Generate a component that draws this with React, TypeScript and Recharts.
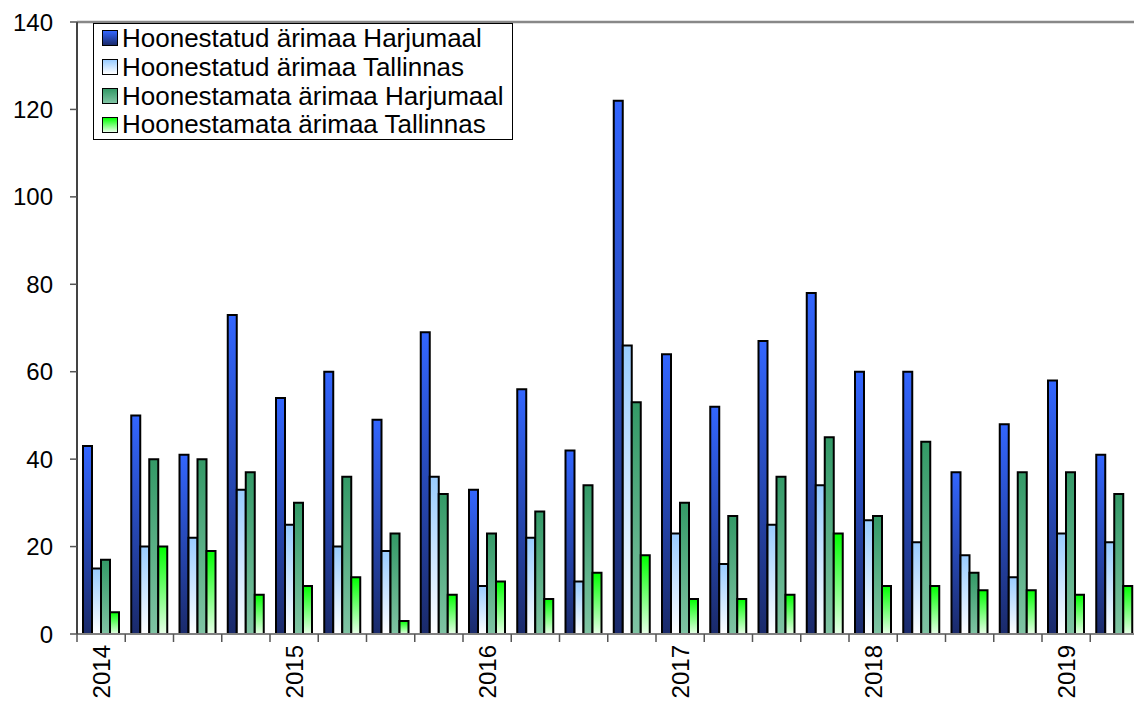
import React from "react";
import {
  BarChart,
  Bar,
  XAxis,
  YAxis,
  Legend,
  ReferenceLine,
} from "recharts";

// quarters 2014 I ... 2019 II
const quarters = [
  "2014-1", "2014-2", "2014-3", "2014-4",
  "2015-1", "2015-2", "2015-3", "2015-4",
  "2016-1", "2016-2", "2016-3", "2016-4",
  "2017-1", "2017-2", "2017-3", "2017-4",
  "2018-1", "2018-2", "2018-3", "2018-4",
  "2019-1", "2019-2",
];

const builtHarju = [43, 50, 41, 73, 54, 60, 49, 69, 33, 56, 42, 122, 64, 52, 67, 78, 60, 60, 37, 48, 58, 41];
const builtTallinn = [15, 20, 22, 33, 25, 20, 19, 36, 11, 22, 12, 66, 23, 16, 25, 34, 26, 21, 18, 13, 23, 21];
const landHarju = [17, 40, 40, 37, 30, 36, 23, 32, 23, 28, 34, 53, 30, 27, 36, 45, 27, 44, 14, 37, 37, 32];
const landTallinn = [5, 20, 19, 9, 11, 13, 3, 9, 12, 8, 14, 18, 8, 8, 9, 23, 11, 11, 10, 10, 9, 11];

const yTicks = [0, 20, 40, 60, 80, 100, 120, 140];

const series = [
  { key: "bh", name: "Hoonestatud ärimaa Harjumaal", top: "#3366ff", bottom: "#1a2a6a" },
  { key: "bt", name: "Hoonestatud ärimaa Tallinnas", top: "#99ccff", bottom: "#ffffff" },
  { key: "lh", name: "Hoonestamata ärimaa Harjumaal", top: "#339966", bottom: "#80c4a4" },
  { key: "lt", name: "Hoonestamata ärimaa Tallinnas", top: "#00ff00", bottom: "#e8ffe8" },
];

const data = quarters.map((q, i) => ({
  q,
  bh: builtHarju[i],
  bt: builtTallinn[i],
  lh: landHarju[i],
  lt: landTallinn[i],
}));

const W = 1145;
const H = 705;
const Y_AXIS_W = 77;
const RIGHT = 6.5;
const BAND = (W - Y_AXIS_W - RIGHT) / quarters.length;
const FONT = '"Liberation Sans", Arial, sans-serif';

function YearTick(props: any) {
  const { x, y, payload } = props;
  const q: string = payload.value;
  const label = q.endsWith("-1") ? q.slice(0, 4) : "";
  const bx = x - BAND / 2;
  return (
    <g>
      <line x1={bx} y1={y} x2={bx} y2={y + 8} stroke="#555" strokeWidth={1.5} />
      {label && (
        <text
          x={x}
          y={y + 11}
          transform={`rotate(-90, ${x}, ${y + 11})`}
          textAnchor="end"
          dy="0.36em"
          fontSize={24}
          fontFamily={FONT}
          fill="#000"
        >
          {label}
        </text>
      )}
    </g>
  );
}

// legend keeps the series order, not the alphabetical one
function LegendBox() {
  return (
    <div
      style={{
        border: "1px solid #000",
        background: "#fff",
        padding: "0 8px 0 8px",
        fontFamily: FONT,
        fontSize: 26,
        lineHeight: "28.75px",
        whiteSpace: "nowrap",
      }}
    >
      {series.map((s) => (
        <div key={s.key} style={{ display: "flex", alignItems: "center" }}>
          <span
            style={{
              display: "inline-block",
              width: 14,
              height: 14,
              border: "1.5px solid #000",
              background: `linear-gradient(to top, ${s.bottom}, ${s.top})`,
              marginRight: 4,
            }}
          />
          <span>{s.name}</span>
        </div>
      ))}
    </div>
  );
}

export default function App() {
  return (
    <div
      style={{
        position: "absolute",
        left: 0,
        top: 0,
        width: 1134,
        height: 705,
        overflow: "hidden",
        background: "#fff",
      }}
    >
      <BarChart
        width={W}
        height={H}
        data={data}
        margin={{ top: 22, right: RIGHT, bottom: 0, left: 0 }}
        barCategoryGap={6}
        barGap={0}
      >
        <defs>
          {series.map((s) => (
            <linearGradient key={s.key} id={`g-${s.key}`} x1="0" y1="1" x2="0" y2="0">
              <stop offset="0%" stopColor={s.bottom} />
              <stop offset="100%" stopColor={s.top} />
            </linearGradient>
          ))}
        </defs>
        <XAxis
          dataKey="q"
          interval={0}
          height={71}
          tickLine={false}
          tickSize={0}
          tickMargin={0}
          tick={<YearTick />}
          axisLine={{ stroke: "#808080", strokeWidth: 2 }}
        />
        <YAxis
          width={Y_AXIS_W}
          domain={[0, 140]}
          ticks={yTicks}
          interval={0}
          tickSize={7}
          tickMargin={17}
          tick={{ fontSize: 24, fill: "#000", fontFamily: FONT }}
          tickLine={{ stroke: "#555", strokeWidth: 1.5 }}
          axisLine={{ stroke: "#444", strokeWidth: 2 }}
        />
        <ReferenceLine y={140} stroke="#888" strokeWidth={2.5} />
        <Legend
          layout="vertical"
          align="center"
          verticalAlign="middle"
          content={<LegendBox />}
          wrapperStyle={{ position: "absolute", left: 93, top: 23, width: "auto", height: "auto" }}
        />
        {series.map((s) => (
          <Bar
            key={s.key}
            dataKey={s.key}
            name={s.name}
            fill={`url(#g-${s.key})`}
            stroke="#000"
            strokeWidth={2}
            isAnimationActive={false}
          />
        ))}
      </BarChart>
    </div>
  );
}
